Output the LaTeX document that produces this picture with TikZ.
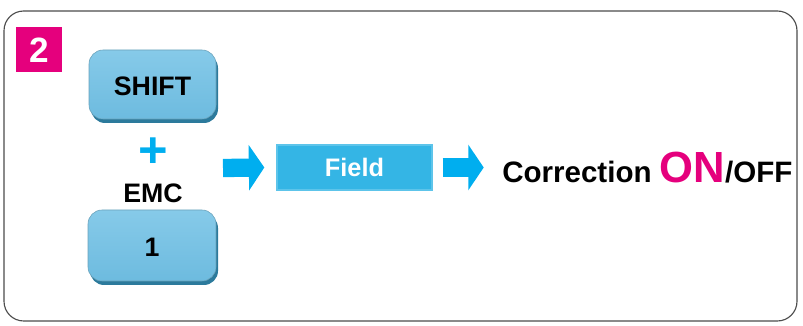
\documentclass[tikz,border=0pt]{standalone}
\usepackage{fontspec}
\setmainfont{Liberation Sans}
\usetikzlibrary{arrows.meta}
\definecolor{stepmagenta}{HTML}{E5007D}
\definecolor{keyface}{HTML}{6DBBDF}
\definecolor{keytop}{HTML}{86CAE9}
\definecolor{keyshadow}{HTML}{2C7A9C}
\definecolor{arrowcyan}{HTML}{00AEEF}
\definecolor{fieldblue}{HTML}{34B5E5}
\newcommand{\fsz}[1]{\fontsize{#1}{#1}\selectfont\bfseries}
\tikzset{
  keyshade/.style={rounded corners=10pt, fill=keyshadow},
  keybox/.style={rounded corners=10pt, top color=keytop, bottom color=keyface,
    draw=keyshadow!70, line width=0.4pt},
  keytext/.style={font=\fsz{19}, text=black},
  bigarrow/.style={draw=arrowcyan, line width=13pt,
    -{Triangle[length=11pt, width=32pt, fill=arrowcyan]}},
}
\begin{document}
\begin{tikzpicture}[x=0.025cm, y=-0.025cm]
    \useasboundingbox (0,0) rectangle (803,326);
    %Frame
    \draw[line width=0.8pt, black!70] (4,11) [rounded corners=14pt] rectangle (797,321);

    %Step number
    \fill[stepmagenta] (16,27) rectangle (62,72);
    \node[font=\fsz{25}, text=white] (step2) at (39,50) {2};

    %Keys
    \fill[keyshade] (91,54) rectangle (218,123);
    \path[keybox] (89,50) rectangle (216,119);
    \node[keytext] (shift) at (152.5,86) {SHIFT};

    \node[font=\fsz{36}, text=arrowcyan] (plus) at (153,153) {+};
    \node[keytext] (emc) at (153,193) {EMC};

    \fill[keyshade] (90,214) rectangle (218,285);
    \path[keybox] (88,210) rectangle (216,281);
    \node[keytext] (one) at (152,247) {1};

    %Field
    \node[minimum width=3.875cm, minimum height=1.125cm, inner sep=0pt,
      fill=fieldblue, draw=fieldblue!80!white, line width=1pt,
      font=\fsz{18}, text=white] (field) at (354.5,167.5) {Field};

    %Result
    \node[anchor=base west, inner sep=0pt, font=\fsz{21}] (result) at (502,183)
      {Correction \textcolor{stepmagenta}{\fsz{31}ON}/OFF};

    %Arrows
    \coordinate (keys) at (223,168);
    \draw[bigarrow] (keys) -- ([xshift=-8.5pt]field.west);
    \draw[bigarrow] ([xshift=7pt]field.east) -- ([xshift=-13pt]result.west |- field.east);
  \end{tikzpicture}
\end{document}
